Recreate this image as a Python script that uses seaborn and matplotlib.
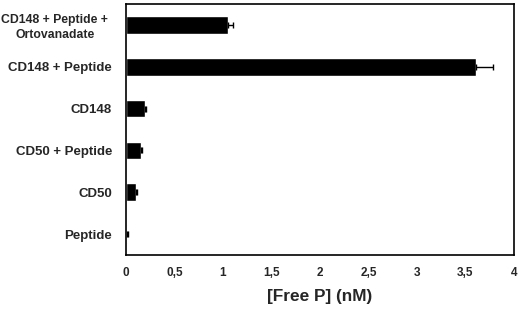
import matplotlib
matplotlib.use("Agg")
import matplotlib.pyplot as plt
import matplotlib.transforms as mtransforms
import seaborn as sns
import pandas as pd
import numpy as np

categories = ["CD148 + Peptide +\nOrtovanadate", "CD148 + Peptide", "CD148",
              "CD50 + Peptide", "CD50", "Peptide"]
values = [1.05, 3.61, 0.20, 0.15, 0.10, 0.015]
errors = [0.055, 0.17, 0.01, 0.01, 0.01, 0.005]
xticks = [0, 0.5, 1, 1.5, 2, 2.5, 3, 3.5, 4]
xticklabels = ["0", "0,5", "1", "1,5", "2", "2,5", "3", "3,5", "4"]

sns.set_style("white")
plt.rcParams['font.family'] = ['Liberation Sans', 'DejaVu Sans']

df = pd.DataFrame({"cat": categories, "val": values, "err": errors})

fig = plt.figure(figsize=(5.2, 3.11), dpi=100)
ax = fig.add_axes([126/520, (311-255)/311, (514-126)/520, (255-4)/311])

sns.barplot(data=df, y="cat", x="val", order=categories, color="black",
            width=0.42, orient="h", ax=ax, errorbar=None, saturation=1)
ypos = np.arange(len(categories))
ax.errorbar(df["val"], ypos, xerr=[np.zeros(len(errors)), df["err"]], fmt="none",
            ecolor="black", elinewidth=1, capsize=2.5, capthick=1)

ax.set_xlim(0, 4)
ax.set_ylim(len(categories) - 0.5, -0.5)
ax.set_xticks(xticks)
ax.set_xticklabels(xticklabels, fontsize=8.5, fontweight="bold")
ax.set_yticks(ypos)
ax.set_yticklabels(categories, fontsize=9.5, fontweight="bold")
ax.set_yticks(np.arange(len(categories) + 1) - 0.5, minor=True)
ax.tick_params(axis="y", which="major", length=0, pad=10)
ax.tick_params(axis="y", which="minor", length=4, direction="inout", width=0.6, color="#555555")
ax.tick_params(axis="x", which="major", length=4, direction="inout", width=0.6, color="#555555", pad=7)
for i, t in enumerate(ax.get_yticklabels()):
    t.set_multialignment("center")
    if "\n" in t.get_text():
        t.set_fontsize(8.8)
        t.set_linespacing(1.3)
        t.set_transform(t.get_transform() + mtransforms.ScaledTranslation(-4/100, 0, fig.dpi_scale_trans))
ax.set_xlabel("[Free P] (nM)", fontsize=12.4, fontweight="bold", labelpad=7)
ax.set_ylabel("")
for s in ax.spines.values():
    s.set_visible(True)
    s.set_color("black")
    s.set_linewidth(1.2)
fig.savefig("out.png", dpi=100)
